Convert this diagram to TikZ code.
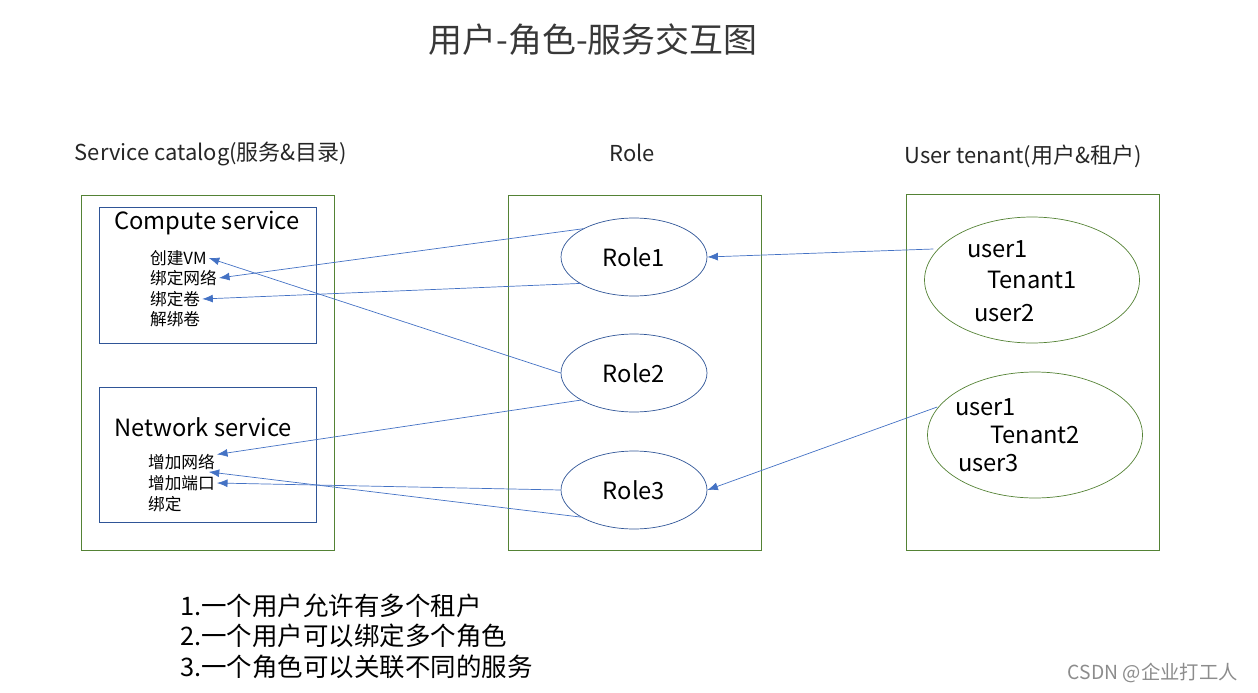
\documentclass[tikz,border=0pt]{standalone}
\usepackage{fontspec}
\setmainfont{Noto Sans CJK SC}
\usetikzlibrary{shapes.geometric,arrows.meta}

\definecolor{boxgreen}{RGB}{84,130,53}
\definecolor{boxblue}{RGB}{47,85,151}
\definecolor{linkblue}{RGB}{68,114,196}

\begin{document}
\begin{tikzpicture} [
    x=0.02cm, y=-0.02cm,
    thin,
  ]

  \tikzstyle{heading} = [
    font=\fontsize{12.5}{15}\selectfont,
    text=black!85,
  ]
  \tikzstyle{service} = [
    font=\fontsize{13.5}{16}\selectfont,
  ]
  \tikzstyle{item} = [
    font=\fontsize{9.5}{11}\selectfont,
    anchor=west,
    inner sep=1pt,
  ]
  \tikzstyle{role} = [
    ellipse,
    draw=boxblue,
    minimum width=2.92cm,
    minimum height=1.56cm,
    font=\fontsize{13.5}{16}\selectfont,
  ]
  \tikzstyle{tenant} = [
    role,
    draw=boxgreen,
    minimum width=4.3cm,
    minimum height=2.52cm,
  ]
  \tikzstyle{user} = [
    font=\fontsize{13.5}{16}\selectfont,
    anchor=west,
    inner sep=1pt,
  ]
  \tikzstyle{link} = [
    draw=linkblue,
    -{Latex[length=6pt,width=4.5pt]},
  ]

  \useasboundingbox (0,0) rectangle (1258,693);

  % title
  \node[font=\fontsize{19.3}{23}\selectfont, text=black!78] (title) at (593,40) {用户-角色-服务交互图};

  % column headings
  \node[heading] (svchead)  at (211,154)  {Service catalog(服务\&目录)};
  \node[heading] (rolehead) at (632,153)  {Role};
  \node[heading] (userhead) at (1023,156) {User tenant(用户\&租户)};

  % containers
  \draw[boxgreen] (81,195)  rectangle (334,550);
  \draw[boxgreen] (508,195) rectangle (761,550);
  \draw[boxgreen] (906,194) rectangle (1159,550);
  \draw[boxblue]  (99,207)  rectangle (316,343);
  \draw[boxblue]  (99,387)  rectangle (316,522);

  % services
  \node[service] (compute) at (207,223) {Compute service};
  \node[item] (mkvm)      at (148,258) {创建VM};
  \node[item] (bindnet)   at (148,278) {绑定网络};
  \node[item] (bindvol)   at (148,299) {绑定卷};
  \node[item] (unbindvol) at (148,319) {解绑卷};

  \node[service] (network) at (203,427) {Network service};
  \node[item] (addnet)  at (146,462) {增加网络};
  \node[item] (addport) at (146,483) {增加端口};
  \node[item] (bind)    at (146,504) {绑定};

  % roles
  \node[role] (role1) at (634,257) {Role1};
  \node[role] (role2) at (634,373) {Role2};
  \node[role] (role3) at (634,490) {Role3};

  % tenants
  \node[tenant] (tenant1) at (1032,280) {Tenant1};
  \node[user] (t1u1) at (965,249) {user1};
  \node[user] (t1u2) at (972,313) {user2};

  \node[tenant] (tenant2) at (1035,435) {Tenant2};
  \node[user] (t2u1) at (953,407) {user1};
  \node[user] (t2u3) at (956,463) {user3};

  % links
  \draw[link] (role1.151) -- (bindnet.east);
  \draw[link] (role1.206) -- (bindvol.east);
  \draw[link] (role2.west) -- (mkvm.east);
  \draw[link] (role2.207) -- (addnet.12);
  \draw[link] (role3.west) -- (addport.east);
  \draw[link] (role3.207) -- (addnet.-20);
  \draw[link] ([xshift=-18]t1u1.west) -- (role1.east);
  \draw[link] ([xshift=-9]t2u1.west) -- (role3.east);

  % notes
  \node[font=\fontsize{14.5}{17.3}\selectfont, align=left, anchor=west] (notes) at (174,636)
    {1.一个用户允许有多个租户\\2.一个用户可以绑定多个角色\\3.一个角色可以关联不同的服务};

  \node[font=\fontsize{11}{13}\selectfont, text=black!45, anchor=east] (mark) at (1244,673) {CSDN @企业打工人};

\end{tikzpicture}
\end{document}
